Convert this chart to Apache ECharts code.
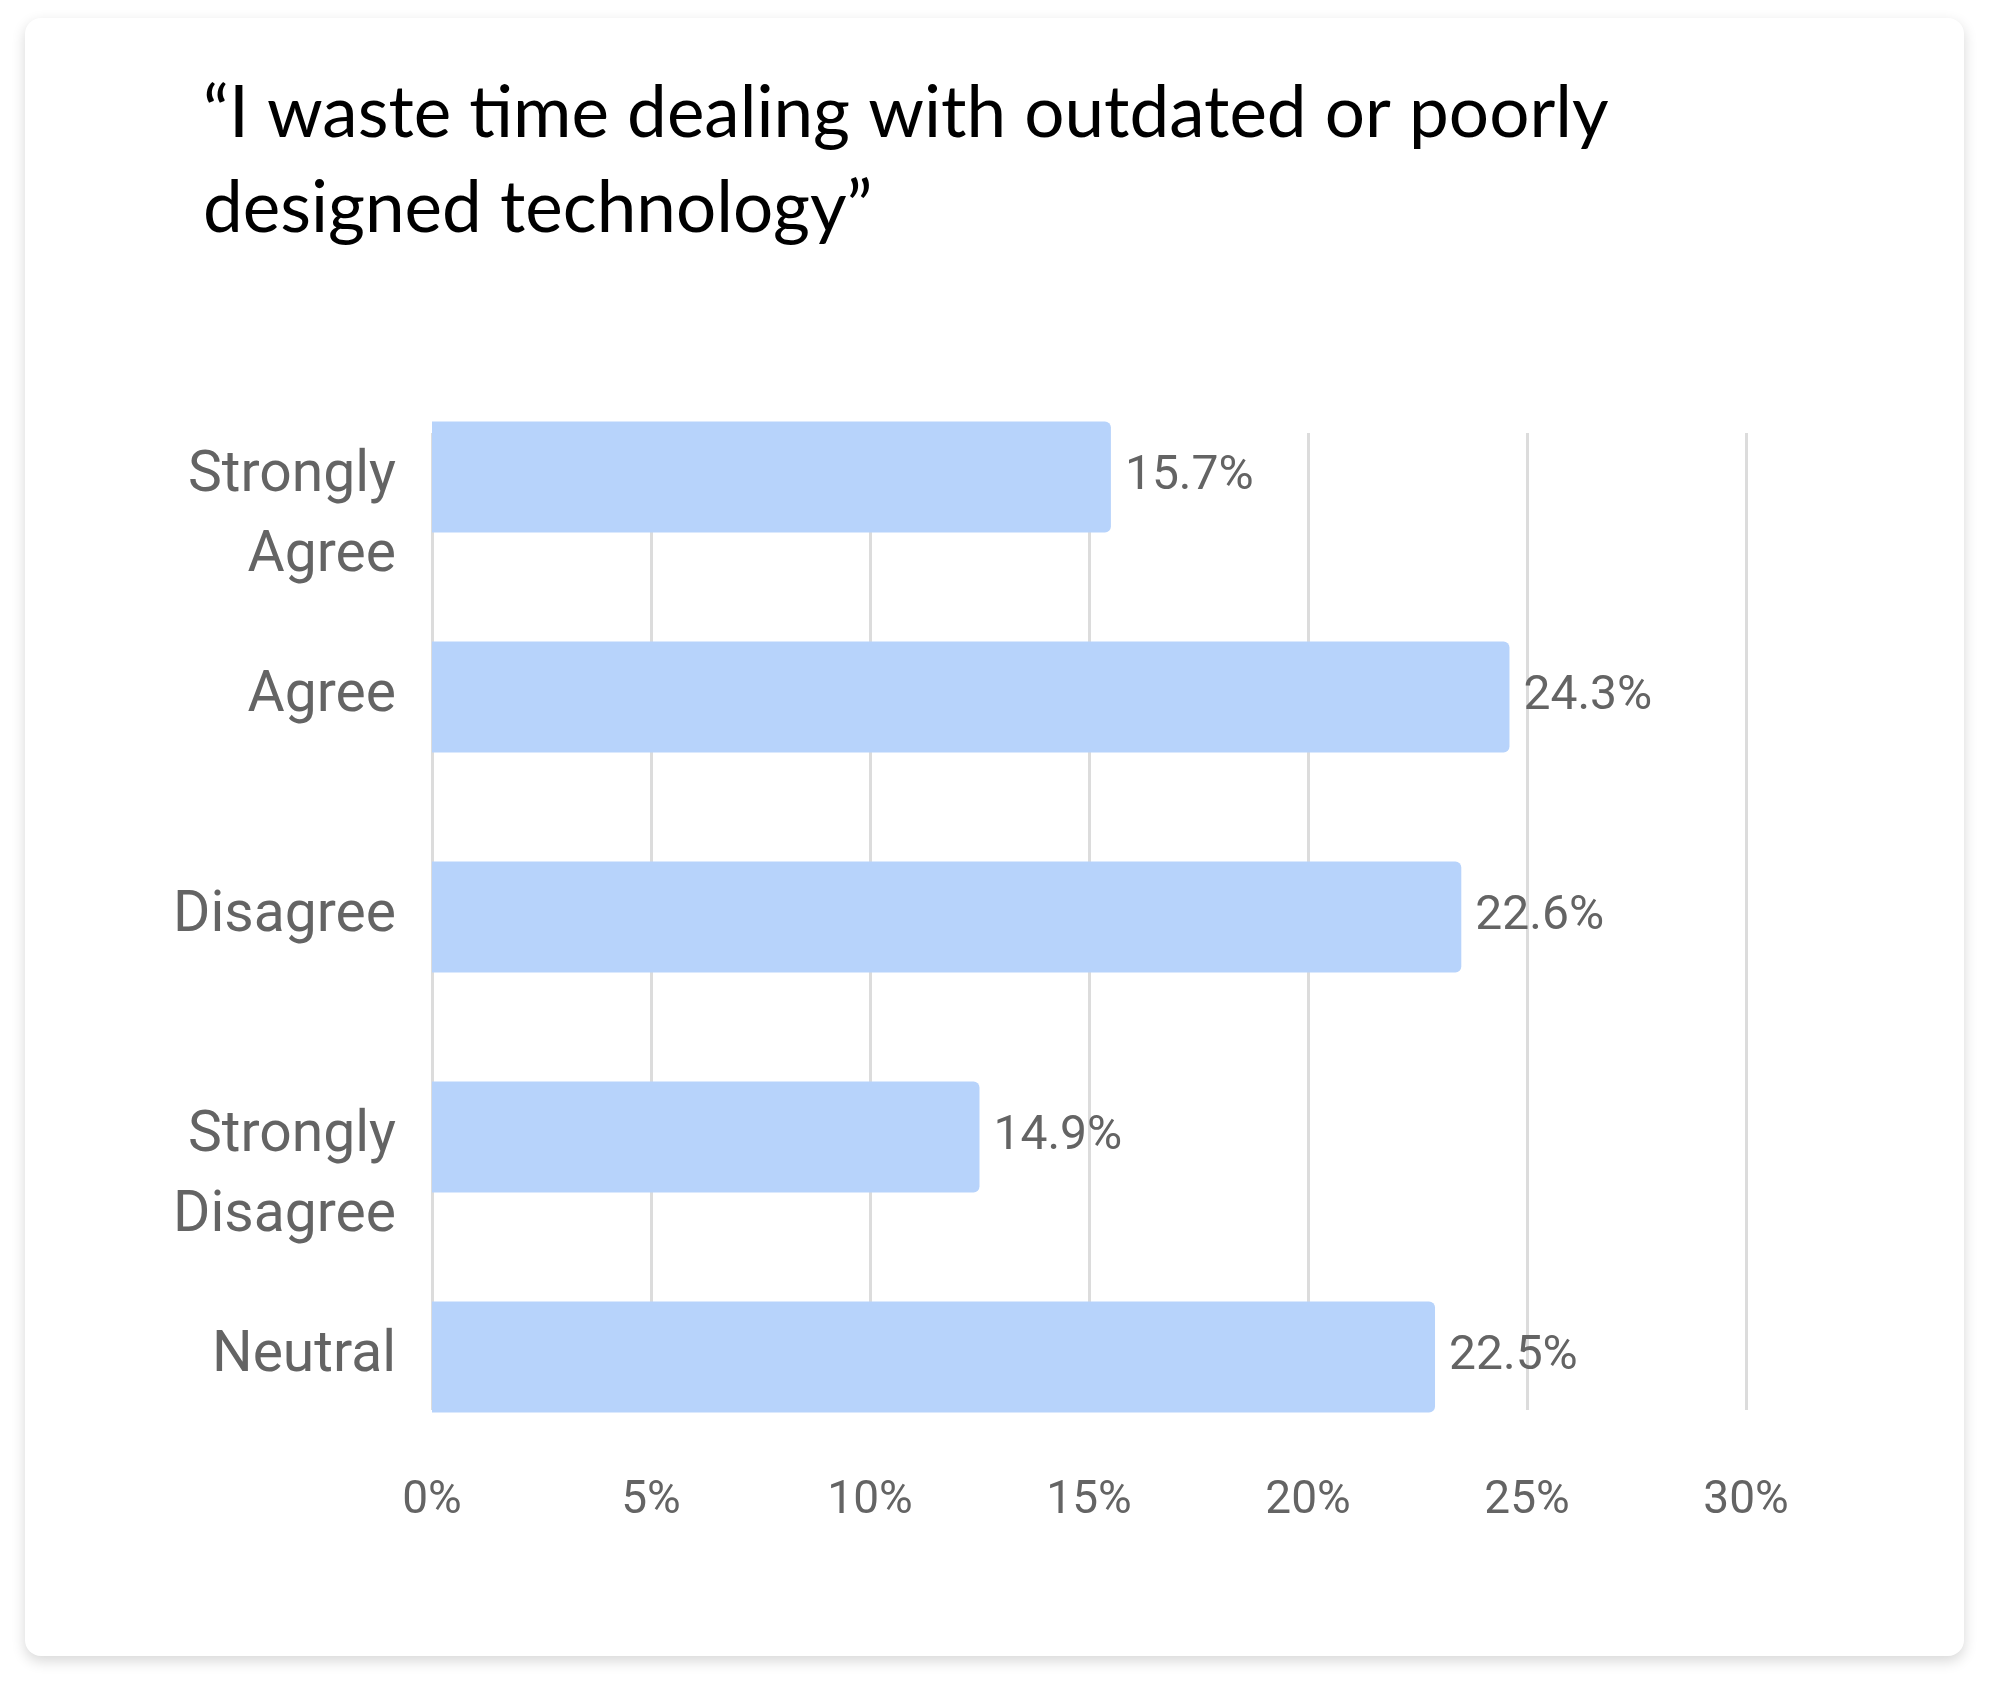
<!DOCTYPE html>
<html>
<head>
<meta charset="utf-8">
<script src="https://cdn.jsdelivr.net/npm/echarts@6/dist/echarts.min.js"></script>
<style>
html,body{margin:0;padding:0;background:#ffffff;}
#card{position:absolute;left:25px;top:18px;width:1939px;height:1638px;background:#fff;border-radius:16px;box-shadow:0 5px 14px rgba(0,0,0,0.16);}
#chart{position:absolute;left:0;top:0;width:1990px;height:1686px;}
</style>
</head>
<body>
<div id="card"></div>
<div id="chart"></div>
<script>
// Data
const categories = ['Strongly Agree', 'Agree', 'Disagree', 'Strongly Disagree', 'Neutral'];
const barValues = [15.5, 24.6, 23.5, 12.5, 22.9];
const labelTexts = ['15.7%', '24.3%', '22.6%', '14.9%', '22.5%'];
const tickValues = [0, 5, 10, 15, 20, 25, 30];
const titleText = '\u201CI waste time dealing with outdated or poorly\ndesigned technology\u201D';

const chart = echarts.init(document.getElementById('chart'), null, {renderer: 'canvas'});
const textGray = '#646464';
const option = {
  backgroundColor: 'transparent',
  animation: false,
  title: {
    text: titleText,
    left: 198,
    top: 62,
    textStyle: {fontFamily: 'Lato', fontSize: 71, fontWeight: 400, color: '#000', lineHeight: 95}
  },
  grid: [
    {left: 432, right: 244, top: 433, bottom: 276},
    {left: 432, right: 244, top: 367, bottom: 219}
  ],
  xAxis: [
    {
      gridIndex: 0, type: 'value', min: tickValues[0], max: tickValues[tickValues.length - 1], interval: 5,
      axisLine: {show: false}, axisTick: {show: false},
      splitLine: {show: true, lineStyle: {color: '#dcdcdc', width: 3}},
      axisLabel: {formatter: '{value}%', fontFamily: 'Roboto', fontSize: 46, color: textGray, margin: 68}
    },
    {
      gridIndex: 1, type: 'value', min: tickValues[0], max: tickValues[tickValues.length - 1],
      show: false
    }
  ],
  yAxis: [
    {gridIndex: 0, type: 'value', show: false},
    {
      gridIndex: 1, type: 'category', data: categories, inverse: true,
      axisLine: {show: false}, axisTick: {show: false}, splitLine: {show: false},
      axisLabel: {
        fontFamily: 'Roboto', fontSize: 57, color: textGray, margin: 36, lineHeight: 80,
        padding: [8, 0, 0, 0],
        formatter: function (v) { return v.indexOf(' ') >= 0 ? '\n' + v.replace(' ', '\n') : v; }
      }
    }
  ],
  series: [{
    type: 'bar',
    xAxisIndex: 1, yAxisIndex: 1,
    data: barValues,
    barWidth: 111,
    itemStyle: {color: '#b7d3fb', borderRadius: [0, 6, 6, 0]},
    label: {
      show: true, position: 'right', distance: 14,
      fontFamily: 'Roboto', fontSize: 48, color: textGray,
      padding: [4, 0, 0, 0],
      formatter: function (p) { return labelTexts[p.dataIndex]; }
    }
  }]
};
chart.setOption(option);
</script>
</body>
</html>
